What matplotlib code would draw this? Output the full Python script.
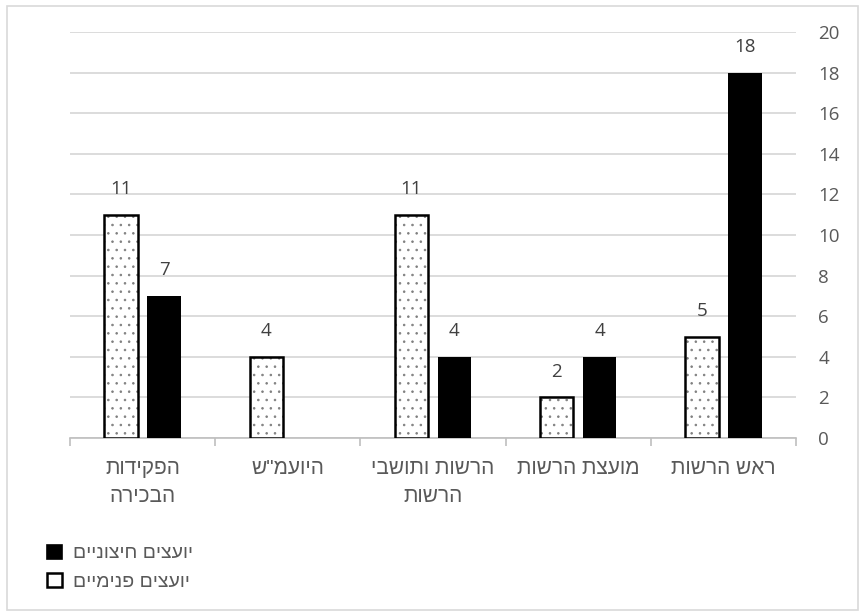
import matplotlib
matplotlib.use("Agg")
import matplotlib.pyplot as plt
from matplotlib.patches import Rectangle, Patch

plt.rcParams['font.family'] = ['Open Sans', 'Liberation Sans']
plt.rcParams['hatch.linewidth'] = 0.6

# Categories listed from right to left (reading order)
categories = ["ראש הרשות", "מועצת הרשות", "הרשות ותושבי\nהרשות", "היועמ\"ש", "הפקידות\nהבכירה"]
internal_advisors = [5, 2, 11, 4, 11]
external_advisors = [18, 4, 4, 0, 7]
series_names = ["יועצים חיצוניים", "יועצים פנימיים"]
y_ticks = [0, 2, 4, 6, 8, 10, 12, 14, 16, 18, 20]


def visual(s):
    """Reverse each line so right-to-left text renders in the right order."""
    return "\n".join(line[::-1] for line in s.split("\n"))


text_color = "#595959"
label_color = "#404040"
hebrew_font = ['Liberation Sans', 'DejaVu Sans']
num_fs = 13.5

fig = plt.figure(figsize=(8.65, 6.16), dpi=100)
ax = fig.add_axes([70 / 865, 1 - 438 / 616, (796 - 70) / 865, (438 - 32) / 616])

x = list(range(len(categories)))
width = 0.23
offset = 0.148
x_int = [i + offset for i in x]
x_ext = [i - offset for i in x]

# dotted fill in grey, then a black outline on top
ax.bar(x_int, internal_advisors, width=width, facecolor="white",
       edgecolor="#7f7f7f", linewidth=0, hatch="..", zorder=3)
bars_int = ax.bar(x_int, internal_advisors, width=width, fill=False,
                  edgecolor="black", linewidth=1.8, zorder=4)
bars_ext = ax.bar(x_ext, external_advisors, width=width,
                  color="black", linewidth=0, zorder=3)

for bars, vals in ((bars_int, internal_advisors), (bars_ext, external_advisors)):
    for b, v in zip(bars, vals):
        if v == 0:
            continue
        ax.annotate(str(v), (b.get_x() + b.get_width() / 2, v),
                    xytext=(0, 12), textcoords="offset points",
                    ha="center", va="bottom", fontsize=num_fs, color=label_color)

ax.set_xlim(len(categories) - 0.5, -0.5)
ax.set_ylim(0, 20)
ax.set_yticks(y_ticks)
ax.yaxis.tick_right()
ax.tick_params(axis="y", length=0, pad=16, labelsize=num_fs, labelcolor=text_color)
ax.yaxis.grid(True, color="#d9d9d9", linewidth=1.3, zorder=0)
ax.set_axisbelow(True)

ax.set_xticks(x)
ax.set_xticklabels([visual(c) for c in categories], fontsize=15,
                   family=hebrew_font, color=text_color, linespacing=1.6,
                   va="top")
ax.tick_params(axis="x", length=0, pad=15)
ax.set_xticks([i - 0.5 for i in range(len(categories) + 1)], minor=True)
ax.tick_params(axis="x", which="minor", length=6, color="#bfbfbf", width=1.2)

for side in ("top", "left", "right"):
    ax.spines[side].set_visible(False)
ax.spines["bottom"].set_color("#bfbfbf")
ax.spines["bottom"].set_linewidth(1.2)

handles = [Patch(facecolor="black", edgecolor="black", linewidth=1.2),
           Patch(facecolor="white", edgecolor="black", linewidth=1.8)]
fig.legend(handles, [visual(n) for n in series_names], loc="upper left",
           bbox_to_anchor=(30 / 865, 1 - 527 / 616), frameon=False,
           prop={'family': hebrew_font, 'size': 14}, labelcolor=text_color,
           handlelength=0.75, handleheight=0.75, handletextpad=0.55,
           labelspacing=0.55)

fig.patches.append(Rectangle((7 / 865, 6 / 616), 851 / 865, 604 / 616,
                             transform=fig.transFigure, fill=False,
                             edgecolor="#d9d9d9", linewidth=1.2))

fig.savefig("out.png", dpi=100)
